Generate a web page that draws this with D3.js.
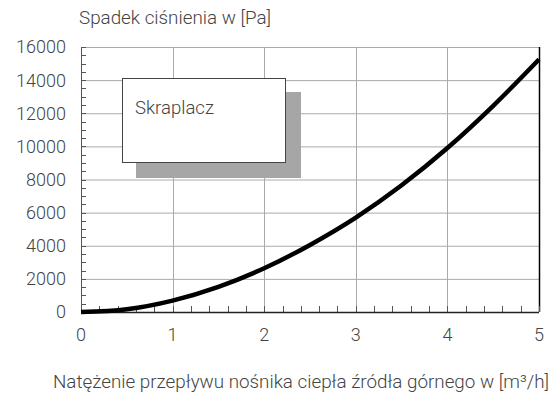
<!DOCTYPE html>
<html>
<head>
<meta charset="utf-8">
<script src="https://cdn.jsdelivr.net/npm/d3@7"></script>
<style>
  body { margin: 0; background: #fff; }
  text { font-family: Roboto, "Liberation Sans", Arial, sans-serif; font-weight: 300; fill: #444; }
</style>
</head>
<body>
<div id="chart"></div>
<script>
// flow rate [m3/h]
var flow = [0, 0.5, 1, 1.5, 2, 2.5, 3, 3.5, 4, 4.5, 5];
// pressure drop [Pa]
var drop = [0, 170, 690, 1520, 2640, 4050, 5700, 7650, 9900, 12450, 15250];

var yTicks = [0, 2000, 4000, 6000, 8000, 10000, 12000, 14000, 16000];
var xTicks = [0, 1, 2, 3, 4, 5];

var yTitle = "Spadek ciśnienia w [Pa]";
var xTitle = "Natężenie przepływu nośnika ciepła źródła górnego w [m³/h]";
var boxLabel = "Skraplacz";

var W = 553, H = 401;
var margin = {top: 47, right: 14, bottom: 89, left: 81},
    width = W - margin.left - margin.right,
    height = H - margin.top - margin.bottom;

var x = d3.scaleLinear().domain([0, 5]).range([0, width]);
var y = d3.scaleLinear().domain([0, 16000]).range([height, 0]);

var svg = d3.select("#chart").append("svg")
    .attr("width", W)
    .attr("height", H);

var g = svg.append("g")
    .attr("transform", "translate(" + margin.left + "," + margin.top + ")");

// grid
g.selectAll(".hgrid").data(yTicks.slice(1)).enter().append("line")
    .attr("x1", 0).attr("x2", width)
    .attr("y1", function(d) { return y(d) + 0.5; })
    .attr("y2", function(d) { return y(d) + 0.5; })
    .attr("stroke", "#aaa").attr("stroke-width", 1);

g.selectAll(".vgrid").data(xTicks.slice(1, -1)).enter().append("line")
    .attr("y1", 0).attr("y2", height)
    .attr("x1", function(d) { return Math.round(x(d)) + 0.5; })
    .attr("x2", function(d) { return Math.round(x(d)) + 0.5; })
    .attr("stroke", "#aaa").attr("stroke-width", 1);

// right border
g.append("line")
    .attr("x1", width + 0.5).attr("x2", width + 0.5)
    .attr("y1", 0).attr("y2", height)
    .attr("stroke", "#000").attr("stroke-width", 1.5);

// minor ticks y (every 500)
g.selectAll(".ymin").data(d3.range(0, 16001, 500)).enter().append("line")
    .attr("x1", 0).attr("x2", 5)
    .attr("y1", function(d) { return Math.round(y(d)) + 0.5; })
    .attr("y2", function(d) { return Math.round(y(d)) + 0.5; })
    .attr("stroke", "#555").attr("stroke-width", 1);

// minor ticks x (every 0.2)
g.selectAll(".xmin").data(d3.range(0, 5.01, 0.2)).enter().append("line")
    .attr("y1", height).attr("y2", height - 6)
    .attr("x1", function(d) { return Math.round(x(d)) + 0.5; })
    .attr("x2", function(d) { return Math.round(x(d)) + 0.5; })
    .attr("stroke", "#555").attr("stroke-width", 1);

// axis lines
g.append("line")
    .attr("x1", 0.5).attr("x2", 0.5).attr("y1", 0).attr("y2", height)
    .attr("stroke", "#555").attr("stroke-width", 1);
g.append("line")
    .attr("x1", 0).attr("x2", width).attr("y1", height + 0.5).attr("y2", height + 0.5)
    .attr("stroke", "#222").attr("stroke-width", 1.5);

// tick labels
g.selectAll(".ylab").data(yTicks).enter().append("text")
    .attr("x", -15)
    .attr("y", function(d) { return y(d); })
    .attr("dy", "0.36em")
    .attr("text-anchor", "end")
    .attr("font-size", 18)
    .text(function(d) { return d; });

g.selectAll(".xlab").data(xTicks).enter().append("text")
    .attr("x", function(d) { return x(d); })
    .attr("y", height + 29)
    .attr("text-anchor", "middle")
    .attr("font-size", 18)
    .text(function(d) { return d; });

// titles
svg.append("text")
    .attr("x", 79).attr("y", 24)
    .attr("font-size", 18)
    .attr("textLength", 192)
    .attr("lengthAdjust", "spacingAndGlyphs")
    .text(yTitle);

svg.append("text")
    .attr("x", 53).attr("y", 388)
    .attr("font-size", 18)
    .attr("textLength", 496)
    .attr("lengthAdjust", "spacingAndGlyphs")
    .text(xTitle);

// legend box with shadow
svg.append("rect")
    .attr("x", 136).attr("y", 92).attr("width", 165).attr("height", 86)
    .attr("fill", "#a6a6a6");
svg.append("rect")
    .attr("x", 122.5).attr("y", 78.5).attr("width", 163).attr("height", 84)
    .attr("fill", "#fff").attr("stroke", "#444").attr("stroke-width", 1);
svg.append("text")
    .attr("x", 135).attr("y", 114)
    .attr("font-size", 18)
    .attr("textLength", 79)
    .attr("lengthAdjust", "spacingAndGlyphs")
    .text(boxLabel);

// curve
var line = d3.line()
    .x(function(d, i) { return x(flow[i]); })
    .y(function(d) { return y(d); })
    .curve(d3.curveMonotoneX);

g.append("path")
    .datum(drop)
    .attr("fill", "none")
    .attr("stroke", "#000")
    .attr("stroke-width", 4.5)
    .attr("d", line);
</script>
</body>
</html>
